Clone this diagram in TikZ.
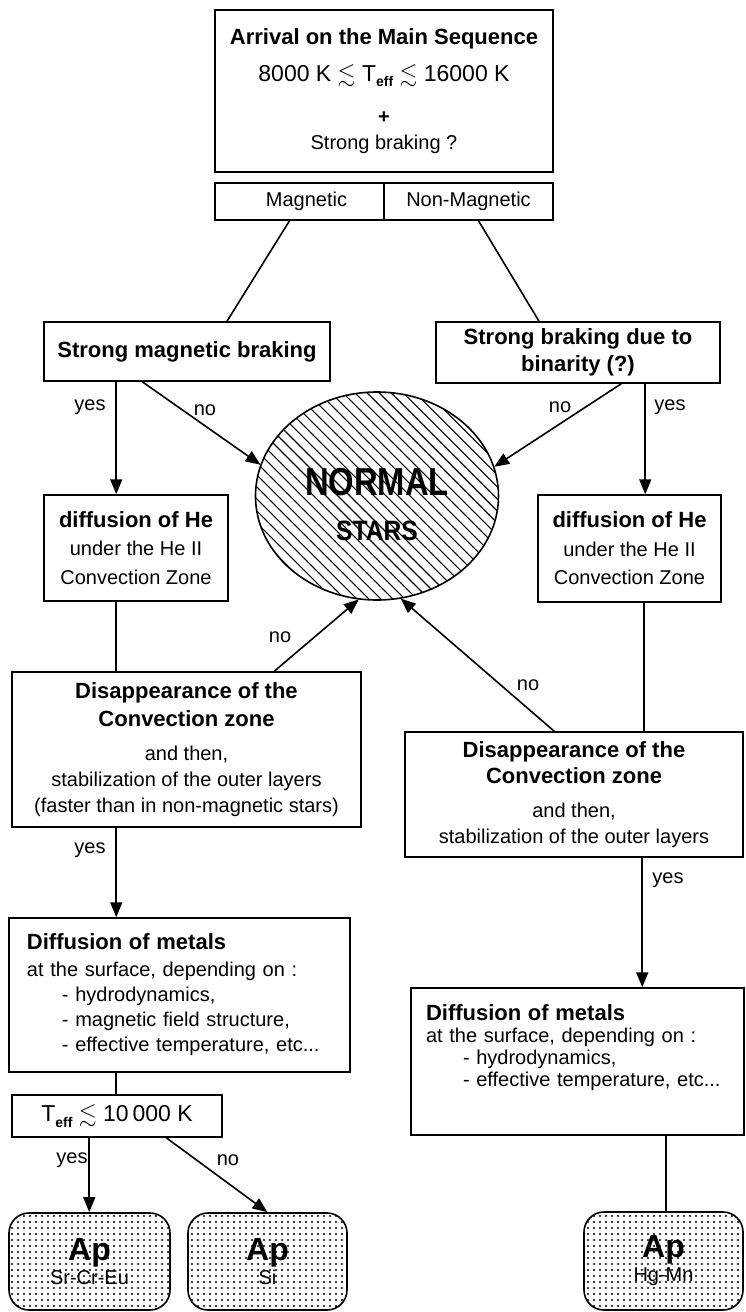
\documentclass[tikz,border=0pt]{standalone}
\usepackage{fontspec}
\setmainfont{Liberation Sans}
\usepackage{amssymb}
\usepackage{graphicx}
\usetikzlibrary{patterns.meta,arrows.meta,calc,shapes.geometric}
\newcommand{\bt}{\fontsize{22}{27}\selectfont\bfseries}
\newcommand{\teffsub}{T\raisebox{-0.45ex}{\fontsize{14}{14}\selectfont\bfseries eff}}
\begin{document}
\begin{tikzpicture}[x=1pt,y=-1pt,
  box/.style={draw, line width=1.5pt, inner sep=0pt, align=center, font=\fontsize{20}{26}\selectfont},
  arr/.style={line width=1.6pt, -{Triangle[length=15pt,width=12pt]}},
  ln/.style={line width=1.6pt},
  lab/.style={font=\fontsize{20}{24}\selectfont, inner sep=0pt},
  apbox/.style={draw, line width=1.6pt, rounded corners=20pt, pattern={Dots[distance=6pt,radius=1.1pt]}, align=center, inner sep=0pt, font=\fontsize{20}{24}\selectfont}
]
\useasboundingbox (0,0) rectangle (745,1312);

% top box
\node[box, minimum width=338pt, minimum height=162pt] (top) at (384,91)
 {{\bt Arrival on the Main Sequence}\\[11pt]
  {\fontsize{23}{26}\selectfont 8000 K $\lesssim$ \teffsub\ $\lesssim$ 16000 K}\\[16pt]
  {\bfseries +}\\
  Strong braking ?};
\node[box, minimum width=169pt, minimum height=37pt] (mag) at (299.5,201.5) {\hspace*{14pt}Magnetic};
\node[box, minimum width=169pt, minimum height=37pt] (nonmag) at (468.5,201.5) {Non-Magnetic};

% braking boxes
\node[box, font=\bt, minimum width=286pt, minimum height=59pt] (smb) at (187,351.5) {Strong magnetic braking};
\node[box, font=\bt, minimum width=284pt, minimum height=61pt] (rsb) at (578,352.5) {Strong braking due to\\binarity (?)};

% normal stars
\node[ellipse, draw, line width=1.6pt, minimum width=243pt, minimum height=208pt, inner sep=0pt,
      pattern={Lines[angle=-45,distance=8.5pt,line width=1.1pt]}, align=center,
      font=\fontsize{20}{45}\selectfont] (normal) at (377,496)
 {\rule{0pt}{44pt}\scalebox{0.84}[1]{\fontsize{39}{41}\selectfont\bfseries NORMAL}\\
  \scalebox{0.88}[1]{\fontsize{28}{41}\selectfont\bfseries STARS}};

% diffusion of He
\node[box, minimum width=184pt, minimum height=106pt, font=\fontsize{20}{28.5}\selectfont] (ldh) at (136,548)
 {{\bt diffusion of He}\\under the He II\\Convection Zone};
\node[box, minimum width=183pt, minimum height=107pt, font=\fontsize{20}{28.5}\selectfont] (rdh) at (629.5,548.5)
 {{\bt diffusion of He}\\under the He II\\Convection Zone};

% disappearance
\node[box, minimum width=349pt, minimum height=155pt] (ldis) at (186.5,749.5)
 {{\bt Disappearance of the}\\[2pt]{\bt Convection zone}\\[8pt]and then,\\stabilization of the outer layers\\(faster than in non-magnetic stars)};
\node[box, minimum width=338pt, minimum height=125pt] (rdis) at (574,794.5)
 {{\bt Disappearance of the}\\{\bt Convection zone}\\[8pt]and then,\\stabilization of the outer layers};

% diffusion of metals
\node[box, align=left, text width=305pt, minimum width=341pt, minimum height=154pt, font=\fontsize{20}{25}\selectfont] (lmet) at (179.5,995)
 {{\bt Diffusion of metals}\\[2pt]at the surface, depending on :\\
  \hspace*{35pt}- hydrodynamics,\\
  \hspace*{35pt}- magnetic field structure,\\
  \hspace*{35pt}- effective temperature, etc...};
\node[box, align=left, text width=303pt, minimum width=333pt, minimum height=147pt, text height=32pt, text depth=115pt, font=\fontsize{20}{22}\selectfont] (rmet) at (577.5,1061.5)
 {{\bt Diffusion of metals}\\at the surface, depending on :\\
  \hspace*{37pt}- hydrodynamics,\\
  \hspace*{37pt}- effective temperature, etc...};

% Teff box
\node[box, minimum width=210pt, minimum height=42pt, font=\fontsize{23}{26}\selectfont] (teff) at (117,1116)
 {\teffsub\ $\lesssim$ 10\,000 K};

% Ap boxes
\node[apbox, minimum width=161pt, minimum height=97pt] (ap1) at (89.5,1261.5)
 {{\fontsize{32}{24}\selectfont\bfseries Ap}\\Sr-Cr-Eu};
\node[apbox, minimum width=159pt, minimum height=97pt] (ap2) at (267.5,1261.5)
 {{\fontsize{32}{24}\selectfont\bfseries Ap}\\Si};
\node[apbox, minimum width=159pt, minimum height=98pt] (ap3) at (663.5,1261)
 {{\fontsize{32}{24}\selectfont\bfseries Ap}\\Hg-Mn};

% connectors
\draw[ln] ($(mag.south)+(-10,0)$) -- ($(smb.north)+(40,0)$);
\draw[ln] ($(nonmag.south)+(10,0)$) -- ($(rsb.north)+(-39,0)$);

\draw[arr] ($(smb.south west)+(73,0)$) coordinate (s1) -- (s1 |- ldh.north);
\draw[arr] ($(smb.south west)+(99,0)$) -- (normal.165);
\draw[arr] ($(rsb.south west)+(186,0)$) -- (normal.14);
\draw[arr] ($(rsb.south west)+(210,0)$) coordinate (s2) -- (s2 |- rdh.north);

\draw[ln] ($(ldh.south west)+(73,0)$) coordinate (s3) -- (s3 |- ldis.north);
\draw[ln] ($(rdh.south west)+(107,0)$) coordinate (s4) -- (s4 |- rdis.north);

\draw[arr] ($(ldis.north west)+(263,0)$) -- (normal.260);
\draw[arr] ($(rdis.north west)+(150,0)$) -- (normal.283);

\draw[arr] ($(ldis.south west)+(105,0)$) coordinate (s5) -- (s5 |- lmet.north);
\draw[arr] ($(rdis.south west)+(238,0)$) coordinate (s6) -- (s6 |- rmet.north);

\draw[ln] ($(lmet.south west)+(108,0)$) coordinate (s7) -- (s7 |- teff.north);
\draw[arr] ($(teff.south west)+(78,0)$) coordinate (s8) -- (s8 |- ap1.north);
\draw[arr] ($(teff.south west)+(155,0)$) -- (ap2.north);
\draw[ln] ($(rmet.south west)+(256,0)$) coordinate (s9) -- (s9 |- ap3.north);

% labels
\node[lab] (y1) at (90,407) {yes};
\node[lab] (n1) at (205,410) {no};
\node[lab] (n2) at (560,407) {no};
\node[lab] (y2) at (670,407) {yes};
\node[lab] (n3) at (280,637) {no};
\node[lab] (n4) at (528,685) {no};
\node[lab] (y3) at (90,850) {yes};
\node[lab] (y4) at (668,880) {yes};
\node[lab] (y5) at (72,1160) {yes};
\node[lab] (n5) at (228,1160) {no};
\end{tikzpicture}
\end{document}
